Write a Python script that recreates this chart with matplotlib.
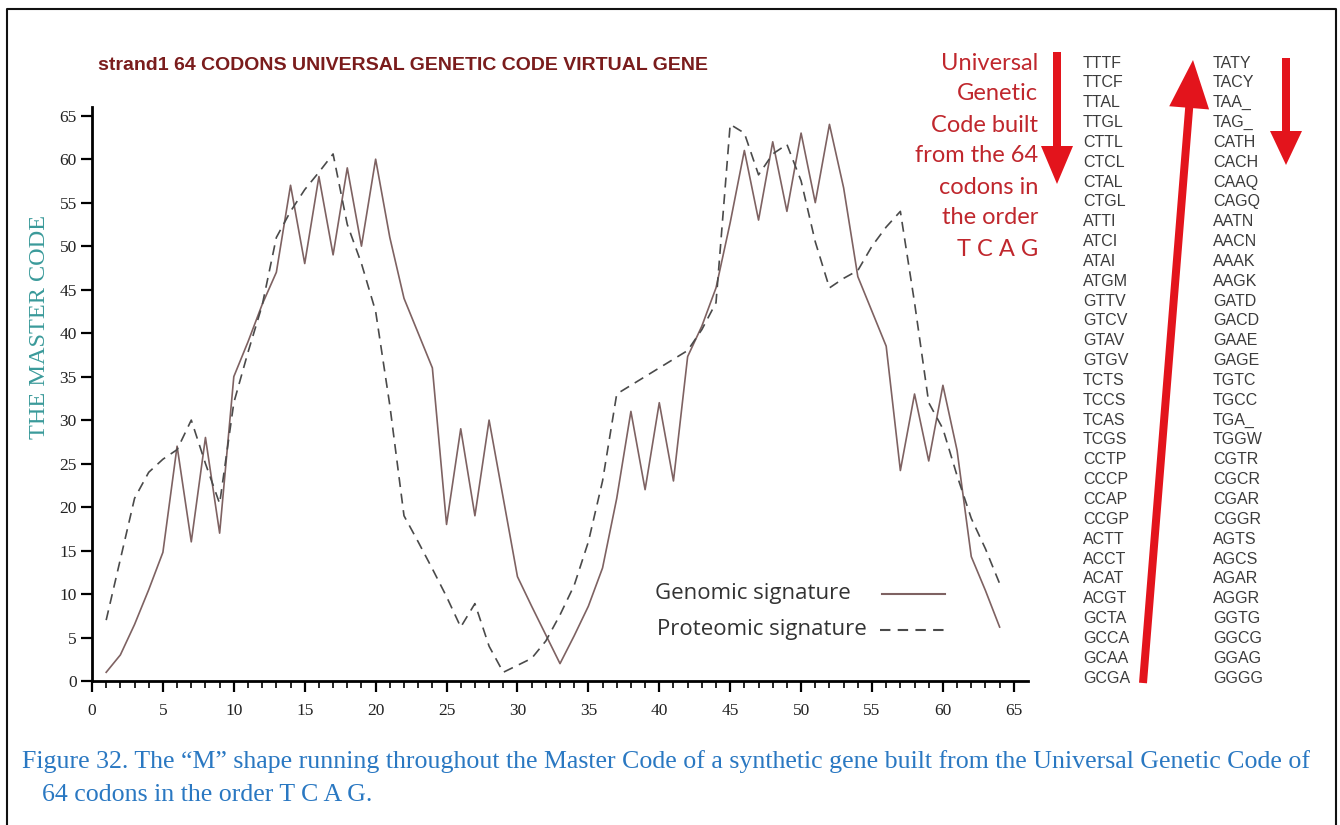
import matplotlib
matplotlib.use("Agg")
import matplotlib.pyplot as plt
import numpy as np
from matplotlib.patches import FancyArrow
from matplotlib.lines import Line2D

# codon positions 1..64 along the virtual gene
positions = np.arange(1, 65)

genomic = [1, 3, 6.5, 10.5, 14.8, 27, 16, 28, 17, 35,
           39, 43.3, 47, 57, 48, 58, 49, 59, 50, 60,
           51, 44, 40, 36, 18, 29, 19, 30, 21, 12,
           8.6, 5.3, 2, 5.2, 8.6, 13, 21, 31, 22, 32,
           23, 37.3, 40.8, 45.2, 52.7, 61, 53, 62, 54, 63,
           55, 64, 56.7, 46.5, 42.5, 38.5, 24.2, 33, 25.3, 34,
           26.5, 14.3, 10.4, 6.2]

proteomic = [7, 14, 21, 24, 25.5, 26.6, 30, 25, 20.4, 32,
             37.8, 43.2, 51, 54, 56.5, 58.5, 60.6, 52.5, 48, 42.5,
             31.7, 19, 16, 12.9, 9.7, 6.2, 8.9, 4, 1, 1.8,
             2.6, 4.6, 7.6, 11, 16, 23, 33, 34, 35, 36,
             37, 38, 40.4, 43.5, 64, 63, 58.2, 60.6, 61.7, 57.5,
             50.5, 45.2, 46.3, 47.2, 50, 52.2, 54, 43.5, 32, 29,
             23.6, 18.7, 15.2, 11.2]

codons_left = ["TTTF", "TTCF", "TTAL", "TTGL", "CTTL", "CTCL", "CTAL", "CTGL",
               "ATTI", "ATCI", "ATAI", "ATGM", "GTTV", "GTCV", "GTAV", "GTGV",
               "TCTS", "TCCS", "TCAS", "TCGS", "CCTP", "CCCP", "CCAP", "CCGP",
               "ACTT", "ACCT", "ACAT", "ACGT", "GCTA", "GCCA", "GCAA", "GCGA"]
codons_right = ["TATY", "TACY", "TAA_", "TAG_", "CATH", "CACH", "CAAQ", "CAGQ",
                "AATN", "AACN", "AAAK", "AAGK", "GATD", "GACD", "GAAE", "GAGE",
                "TGTC", "TGCC", "TGA_", "TGGW", "CGTR", "CGCR", "CGAR", "CGGR",
                "AGTS", "AGCS", "AGAR", "AGGR", "GGTG", "GGCG", "GGAG", "GGGG"]

note_lines = ["Universal", "Genetic", "Code built", "from the 64",
              "codons in", "the order", "T C A G"]

gen_color = "#7e6262"
prot_color = "#4a4a4a"
prot_dash = (0, (6, 4))

W, H = 1340, 825
fig = plt.figure(figsize=(W / 100, H / 100), dpi=100)

# main chart
ax = fig.add_axes([92 / W, (H - 681) / H, 936 / W, 574 / H])
ax.set_facecolor("none")
ax.plot(positions, genomic, color=gen_color, lw=1.2)
ax.plot(positions, proteomic, color=prot_color, lw=1.2, ls=prot_dash)

ax.set_xlim(0, 66)
ax.set_ylim(0, 66)
ax.set_xticks(np.arange(0, 66, 5))
ax.set_xticks(np.arange(0, 66, 1), minor=True)
ax.set_yticks(np.arange(0, 66, 5))
for s in ["top", "right"]:
    ax.spines[s].set_visible(False)
for s in ["left", "bottom"]:
    ax.spines[s].set_linewidth(2)
ax.tick_params(axis="both", which="major", length=8, width=1.6, direction="out",
               labelsize=12.5)
ax.tick_params(axis="x", which="major", pad=8)
ax.tick_params(axis="y", which="major", pad=3)
ax.tick_params(axis="x", which="minor", length=5, width=1.2)
for lab in ax.get_xticklabels() + ax.get_yticklabels():
    lab.set_family("Liberation Serif")
    lab.set_color("#222222")
ax.set_ylabel("THE MASTER CODE", family="Liberation Serif", fontsize=17.5,
              color="#3a9a9a")
ax.yaxis.set_label_coords((50 - 92) / 936, (681 - 327) / 574)

# overlay in pixel coordinates for the decorations
over = fig.add_axes([0, 0, 1, 1])
over.set_xlim(0, W)
over.set_ylim(H, 0)
over.axis("off")

# legend, text left-aligned with the samples in one column
over.text(655, 594, "Genomic signature", family="Open Sans", fontsize=16,
          color="#333333", ha="left", va="center")
over.text(657, 630, "Proteomic signature", family="Open Sans", fontsize=16,
          color="#333333", ha="left", va="center")
over.add_line(Line2D([882, 945], [594, 594], color=gen_color, lw=1.5))
over.add_line(Line2D([880, 945], [630, 630], color=prot_color, lw=1.5,
                     ls=(0, (5, 3.5))))

# title
over.text(98, 66, "strand1 64 CODONS UNIVERSAL GENETIC CODE VIRTUAL GENE",
          family="Liberation Sans", fontweight="bold", fontsize=14,
          color="#7a1c1c", va="center", ha="left")

# red note
for i, line in enumerate(note_lines):
    over.text(1038, 63 + i * 31, line, family="Lato", fontsize=17,
              color="#c0272d", ha="right", va="center")

# codon columns
for i, (a, b) in enumerate(zip(codons_left, codons_right)):
    y = 63 + i * 19.84
    over.text(1083, y, a, family="Liberation Sans", fontsize=11.5,
              color="#3c3c3c", ha="left", va="center")
    over.text(1213, y, b, family="Liberation Sans", fontsize=11.5,
              color="#3c3c3c", ha="left", va="center")

# red arrows
red = "#e3141c"
over.add_patch(FancyArrow(1057, 52, 0, 132, width=8, head_width=32, head_length=38,
                          length_includes_head=True, color=red, lw=0))
over.add_patch(FancyArrow(1286, 58, 0, 107, width=8, head_width=32, head_length=34,
                          length_includes_head=True, color=red, lw=0))
over.add_patch(FancyArrow(1143, 683, 50, -623, width=8, head_width=40, head_length=48,
                          length_includes_head=True, color=red, lw=0))

# caption
over.text(22, 762, "Figure 32. The \u201cM\u201d shape running throughout the Master Code "
          "of a synthetic gene built from the Universal Genetic Code of",
          family="Liberation Serif", fontsize=18.6, color="#2a78c2", ha="left", va="center")
over.text(42, 795, "64 codons in the order T C A G.",
          family="Liberation Serif", fontsize=18.6, color="#2a78c2", ha="left", va="center")

# thin frame round the figure
over.add_line(Line2D([7, 7, 1336, 1336], [825, 9, 9, 825], color="#111111", lw=1.5))

fig.savefig("out.png", dpi=100)
